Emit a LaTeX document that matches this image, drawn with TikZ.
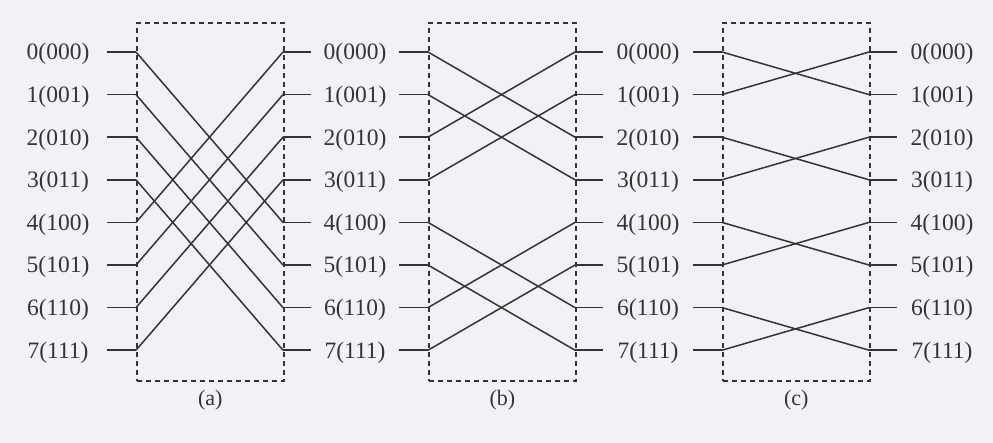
\documentclass[tikz,border=0pt]{standalone}
\usepackage{fontspec}
\setmainfont{Liberation Serif}
\usepackage{tikz}
\usetikzlibrary{positioning, calc}
\definecolor{paperbg}{HTML}{F2F2F6}
\definecolor{wiregray}{HTML}{343434}

\begin{document}
\begin{tikzpicture}[x=1pt, y=-1pt,
  wire/.style={draw=wiregray, line width=1.5pt},
  stagebox/.style={draw=wiregray, dash pattern=on 5pt off 4pt, line width=1.7pt,
                   minimum width=147pt, minimum height=358pt, inner sep=0pt},
  portlabel/.style={text=wiregray, font=\fontsize{23.5}{28}\selectfont, inner sep=0pt, anchor=base},
  stagename/.style={text=wiregray, font=\fontsize{22}{26}\selectfont, inner sep=0pt, anchor=base}]
  \fill[paperbg] (0,0) rectangle (993,443);
  \useasboundingbox (0,0) rectangle (993,443);

  % port labels, shared between neighbouring stages
  \foreach \col/\cx in {0/58, 1/355, 2/648, 3/942}
    \foreach \i/\bits in {0/000, 1/001, 2/010, 3/011, 4/100, 5/101, 6/110, 7/111}
      \node[portlabel] (lab\col-\i) at (\cx, 60+42.6*\i) {\i(\bits)};

  % the three stages
  \foreach \s/\bx/\flip in {a/136/4, b/428/2, c/722/1}{
    \node[stagebox, anchor=north west] (box-\s) at (\bx, 22) {};
    \node[stagename] (name-\s) at ($(box-\s.south)+(0,24)$) {(\s)};
    \foreach \i in {0,...,7}{
      \coordinate (\s-l\i) at (\bx-29, 52+42.6*\i);
      \coordinate (\s-p\i) at (\bx, 52+42.6*\i);
      \coordinate (\s-q\i) at (\bx+147, 52+42.6*\i);
      \coordinate (\s-r\i) at (\bx+175, 52+42.6*\i);
      \draw[wire] (\s-l\i) -- (\s-p\i);
      \draw[wire] (\s-q\i) -- (\s-r\i);
    }
    \foreach \i in {0,...,7}{
      \pgfmathtruncatemacro\j{\i + \flip*(1-2*mod(floor(\i/\flip),2))}
      \draw[wire] (\s-p\i) -- (\s-q\j);
    }
  }
\end{tikzpicture}
\end{document}
